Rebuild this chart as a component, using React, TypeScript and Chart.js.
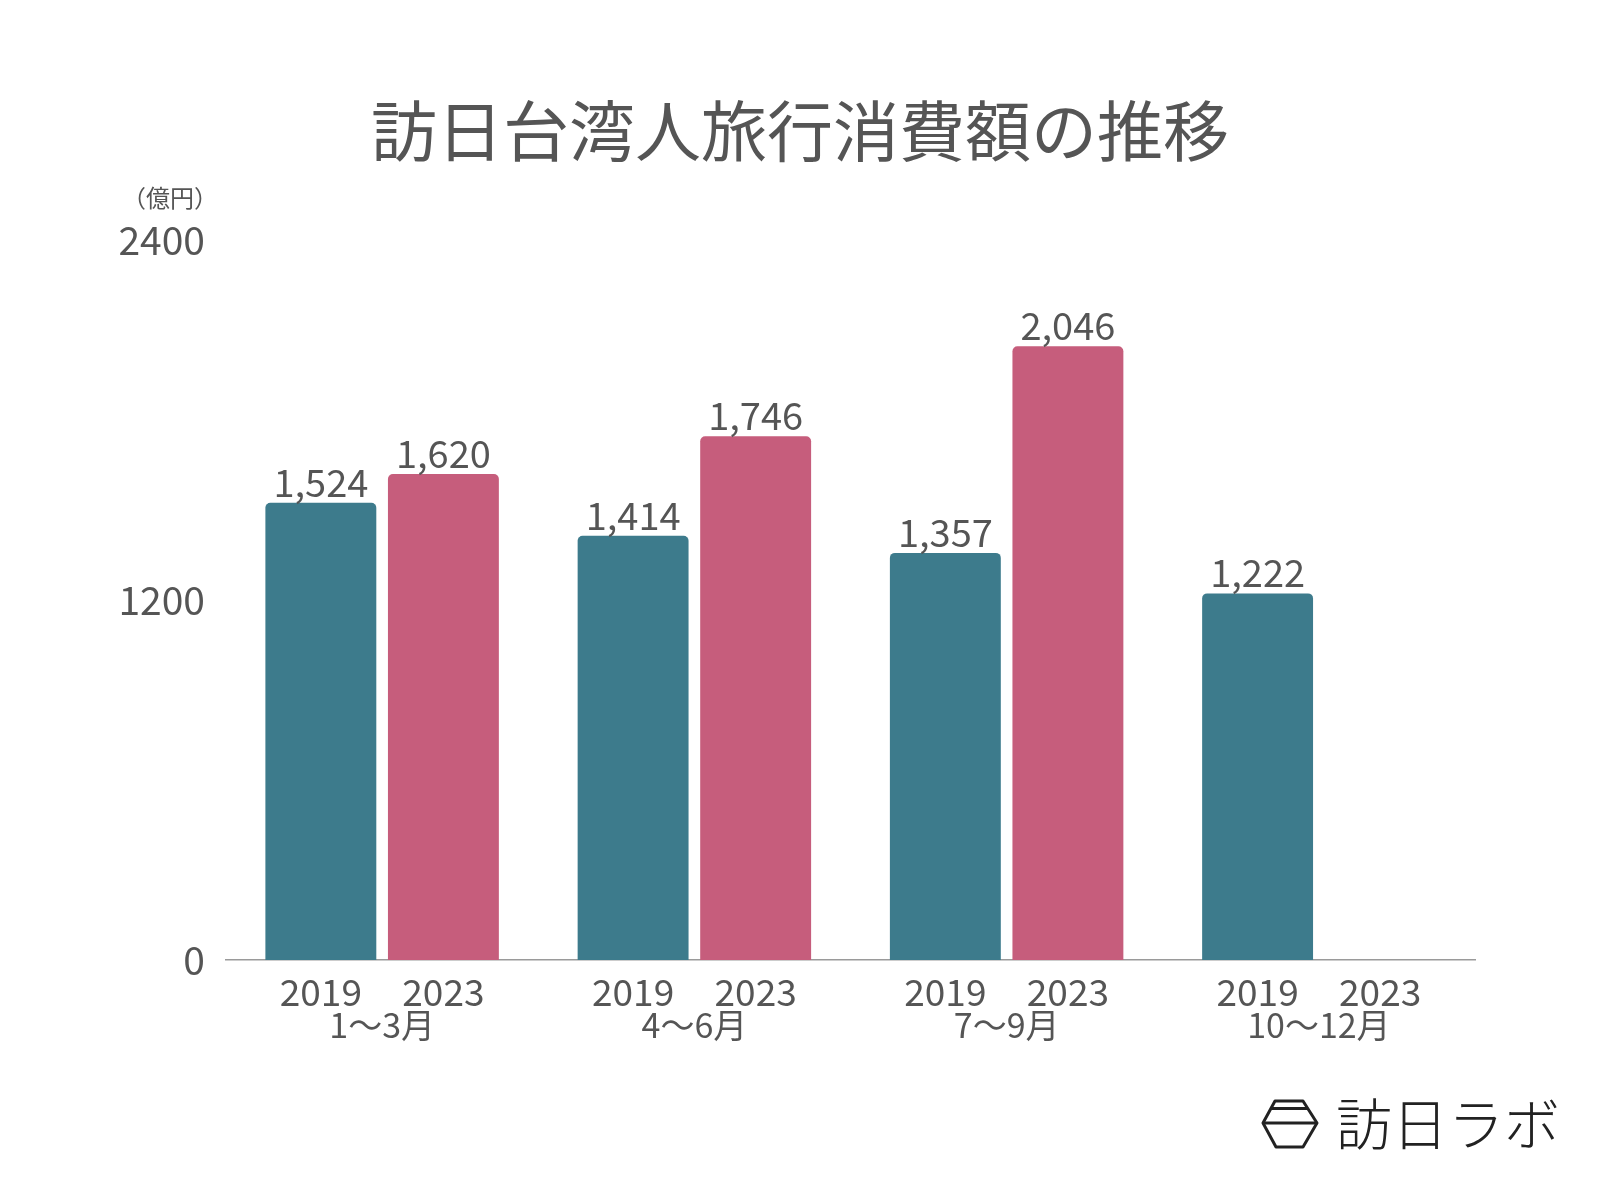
import React, { useEffect, useRef } from "react";
import { Chart, registerables } from "chart.js";

Chart.register(...registerables);

const titleText = "訪日台湾人旅行消費額の推移";
const unitLabel = "（億円）";
const brandText = "訪日ラボ";
const quarters = ["1〜3月", "4〜6月", "7〜9月", "10〜12月"];
const seriesYears = ["2019", "2023"];
const values2019 = [1524, 1414, 1357, 1222];
const values2023: (number | null)[] = [1620, 1746, 2046, null];
const yTicks = [0, 1200, 2400];

const FONT = '"Noto Sans CJK JP", "Noto Sans", sans-serif';
const TEXT = "#555555";
const TEAL = "#3d7b8c";
const PINK = "#c65d7c";

const overlayPlugin = {
  id: "overlay",
  afterDraw(chart: any) {
    const ctx = chart.ctx as CanvasRenderingContext2D;
    const area = chart.chartArea;
    ctx.save();
    // title
    ctx.fillStyle = TEXT;
    ctx.textAlign = "center";
    ctx.textBaseline = "middle";
    ctx.font = `66px ${FONT}`;
    ctx.fillText(titleText, chart.width / 2, 131);
    // unit
    ctx.font = `24px ${FONT}`;
    ctx.fillText(unitLabel, 170, 198);

    // value labels + year labels
    chart.data.datasets.forEach((ds: any, di: number) => {
      const meta = chart.getDatasetMeta(di);
      meta.data.forEach((bar: any, i: number) => {
        const v = ds.data[i];
        const x = bar.x;
        ctx.fillStyle = TEXT;
        ctx.textAlign = "center";
        if (v != null) {
          ctx.font = `38px ${FONT}`;
          ctx.textBaseline = "alphabetic";
          ctx.fillText(Number(v).toLocaleString("en-US"), x, bar.y - 6);
        }
        ctx.font = `37px ${FONT}`;
        ctx.textBaseline = "middle";
        ctx.fillText(seriesYears[di], x, area.bottom + 32);
      });
    });

    // logo icon
    ctx.strokeStyle = "#222222";
    ctx.lineWidth = 3;
    ctx.lineJoin = "round";
    ctx.beginPath();
    ctx.moveTo(1263, 1123);
    ctx.lineTo(1275, 1101);
    ctx.lineTo(1303, 1101);
    ctx.lineTo(1317, 1123);
    ctx.lineTo(1303, 1147);
    ctx.lineTo(1276, 1147);
    ctx.closePath();
    ctx.stroke();
    ctx.beginPath();
    ctx.moveTo(1271, 1108.5);
    ctx.lineTo(1308, 1108.5);
    ctx.moveTo(1263, 1123);
    ctx.lineTo(1317, 1123);
    ctx.stroke();
    // logo text
    ctx.fillStyle = "#222222";
    ctx.font = `300 56px ${FONT}`;
    ctx.textAlign = "center";
    ctx.textBaseline = "middle";
    ctx.fillText(brandText, 1448, 1124);
    ctx.restore();
  },
};

export default function App() {
  const ref = useRef<HTMLCanvasElement | null>(null);
  useEffect(() => {
    if (!ref.current) return;
    const chart = new Chart(ref.current, {
      type: "bar",
      data: {
        labels: quarters,
        datasets: [
          {
            label: seriesYears[0],
            data: values2019,
            backgroundColor: TEAL,
            borderRadius: 5,
            categoryPercentage: 0.785,
            barPercentage: 0.905,
          },
          {
            label: seriesYears[1],
            data: values2023,
            backgroundColor: PINK,
            borderRadius: 5,
            categoryPercentage: 0.785,
            barPercentage: 0.905,
          },
        ],
      },
      options: {
        animation: false,
        responsive: false,
        devicePixelRatio: 1,
        layout: { padding: { top: 240, left: 0, right: 125, bottom: 140 } },
        plugins: {
          legend: { display: false },
          tooltip: { enabled: false },
          title: { display: false },
        },
        scales: {
          x: {
            grid: { display: false, drawTicks: false },
            border: { display: true, color: "#9a9a9a", width: 1.5 },
            ticks: {
              color: TEXT,
              padding: 45,
              font: { family: FONT, size: 34 },
              maxRotation: 0,
              autoSkip: false,
            },
            afterFit: (scale: any) => {
              scale.height = 100;
            },
          },
          y: {
            min: 0,
            max: 2400,
            grid: { display: false, drawTicks: false },
            border: { display: false },
            ticks: {
              color: TEXT,
              padding: 21,
              font: { family: FONT, size: 39 },
              callback: (v: any) => String(v),
            },
            afterBuildTicks: (scale: any) => {
              scale.ticks = yTicks.map((v) => ({ value: v }));
            },
            afterFit: (scale: any) => {
              scale.width = 226;
            },
          },
        },
      },
      plugins: [overlayPlugin],
    });
    return () => chart.destroy();
  }, []);
  return (
    <div style={{ position: "absolute", left: 0, top: 0, width: 1600, height: 1200, background: "#ffffff" }}>
      <canvas ref={ref} width={1600} height={1200} style={{ width: 1600, height: 1200, display: "block" }} />
    </div>
  );
}
